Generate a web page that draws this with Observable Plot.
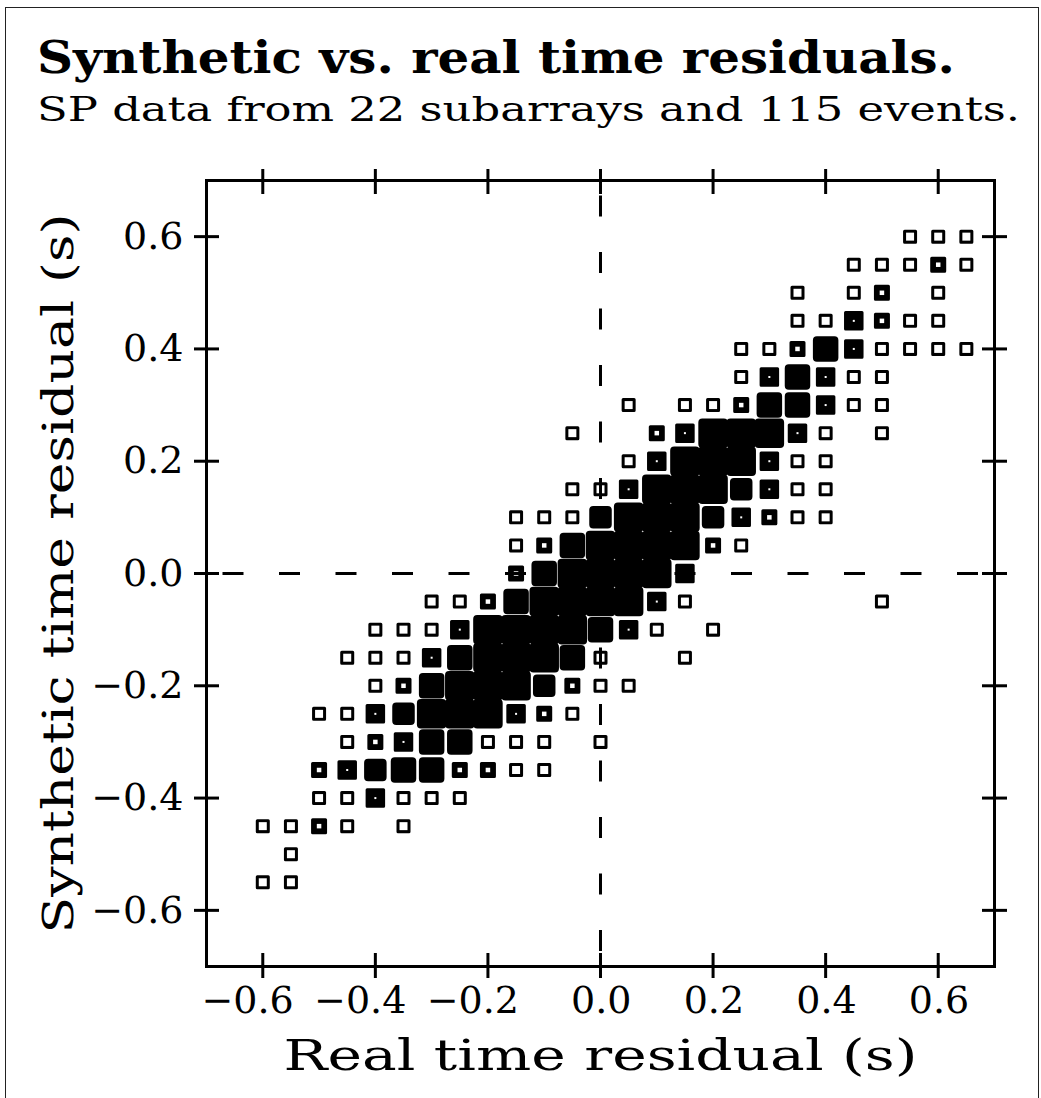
<!DOCTYPE html>
<html>
<head>
<meta charset="utf-8">
<script src="https://cdn.jsdelivr.net/npm/d3@7"></script>
<script src="https://cdn.jsdelivr.net/npm/@observablehq/plot@0.6"></script>
<style>
  html, body { margin: 0; padding: 0; background: #fff; }
  body { width: 1041px; height: 1098px; overflow: hidden; position: relative; font-family: "DejaVu Serif", serif; color: #000; }
  #frame { position: absolute; left: 5px; top: 7px; width: 1034px; height: 1120px; border: 1.5px solid #222; box-sizing: border-box; z-index: 2; pointer-events: none; }
  #title { position: absolute; left: 37px; top: 35px; font-size: 45px; line-height: 1; font-weight: bold; white-space: nowrap; transform-origin: 0 0; }
  #subtitle { position: absolute; left: 37px; top: 93px; font-size: 33px; line-height: 1; white-space: nowrap; transform-origin: 0 0; }
  #chart { position: absolute; left: 0; top: 140px; }
</style>
</head>
<body>
<div id="frame"></div>
<div id="title">Synthetic vs. real time residuals.</div>
<div id="subtitle">SP data from 22 subarrays and 115 events.</div>
<div id="chart"></div>
<script>
// Synthetic residual of each row (s)
const syntheticY = [0.6, 0.55, 0.5, 0.45, 0.4, 0.35, 0.3, 0.25, 0.2, 0.15, 0.1, 0.05, 0,
  -0.05, -0.1, -0.15, -0.2, -0.25, -0.3, -0.35, -0.4, -0.45, -0.5, -0.55];
// Real residuals present in each row (s)
const realX = [
  [0.55, 0.6, 0.65],
  [0.45, 0.5, 0.55, 0.6, 0.65],
  [0.35, 0.45, 0.5, 0.6],
  [0.35, 0.4, 0.45, 0.5, 0.55, 0.6],
  [0.25, 0.3, 0.35, 0.4, 0.45, 0.5, 0.55, 0.6, 0.65],
  [0.25, 0.3, 0.35, 0.4, 0.45, 0.5],
  [0.05, 0.15, 0.2, 0.25, 0.3, 0.35, 0.4, 0.45, 0.5],
  [-0.05, 0.1, 0.15, 0.2, 0.25, 0.3, 0.35, 0.4, 0.5],
  [0.05, 0.1, 0.15, 0.2, 0.25, 0.3, 0.35, 0.4],
  [-0.05, 0, 0.05, 0.1, 0.15, 0.2, 0.25, 0.3, 0.35, 0.4],
  [-0.15, -0.1, -0.05, 0, 0.05, 0.1, 0.15, 0.2, 0.25, 0.3, 0.35, 0.4],
  [-0.15, -0.1, -0.05, 0, 0.05, 0.1, 0.15, 0.2, 0.25],
  [-0.15, -0.1, -0.05, 0, 0.05, 0.1, 0.15],
  [-0.3, -0.25, -0.2, -0.15, -0.1, -0.05, 0, 0.05, 0.1, 0.15, 0.5],
  [-0.4, -0.35, -0.3, -0.25, -0.2, -0.15, -0.1, -0.05, 0, 0.05, 0.1, 0.2],
  [-0.45, -0.4, -0.35, -0.3, -0.25, -0.2, -0.15, -0.1, -0.05, 0, 0.15],
  [-0.4, -0.35, -0.3, -0.25, -0.2, -0.15, -0.1, -0.05, 0, 0.05],
  [-0.5, -0.45, -0.4, -0.35, -0.3, -0.25, -0.2, -0.15, -0.1, -0.05],
  [-0.45, -0.4, -0.35, -0.3, -0.25, -0.2, -0.15, -0.1, 0],
  [-0.5, -0.45, -0.4, -0.35, -0.3, -0.25, -0.2, -0.15, -0.1],
  [-0.5, -0.45, -0.4, -0.35, -0.3, -0.25],
  [-0.6, -0.55, -0.5, -0.45, -0.35],
  [-0.55],
  [-0.6, -0.55]
];
// Count class (1 = fewest ... 6 = most) for each cell, same layout as realX
const countClass = [
  [1, 1, 1],
  [1, 1, 1, 2, 1],
  [1, 1, 2, 1],
  [1, 1, 3, 2, 1, 1],
  [1, 1, 2, 5, 3, 1, 1, 1, 1],
  [1, 3, 5, 3, 1, 1],
  [1, 1, 1, 2, 5, 5, 3, 1, 1],
  [1, 2, 3, 6, 6, 6, 3, 1, 1],
  [1, 3, 6, 6, 6, 3, 1, 1],
  [1, 1, 3, 6, 6, 6, 4, 3, 1, 1],
  [1, 1, 1, 4, 6, 6, 6, 4, 3, 2, 1, 1],
  [1, 2, 5, 6, 6, 6, 6, 2, 1],
  [2, 5, 6, 6, 6, 6, 3],
  [1, 1, 2, 5, 6, 6, 6, 6, 3, 1, 1],
  [1, 1, 1, 3, 6, 6, 6, 6, 5, 3, 1, 1],
  [1, 1, 1, 3, 5, 6, 6, 6, 5, 1, 1],
  [1, 2, 5, 6, 6, 6, 4, 2, 1, 1],
  [1, 1, 3, 4, 6, 6, 6, 3, 2, 1],
  [1, 2, 3, 5, 5, 1, 1, 1, 1],
  [2, 3, 4, 5, 5, 2, 2, 1, 1],
  [1, 1, 3, 1, 1, 1],
  [1, 1, 2, 1, 1],
  [1],
  [1, 1]
];
const tickValues = [-0.6, -0.4, -0.2, 0, 0.2, 0.4, 0.6];
const xLabel = "Real time residual (s)";
const yLabel = "Synthetic time residual (s)";

// marker styling per count class: outer side (px), white hole side (px), stroke width
const markerStyle = {
  1: {outer: 14, hole: 8, sw: 3},
  2: {outer: 16, hole: 4.5, sw: 3},
  3: {outer: 19.5, hole: 2, sw: 3},
  4: {outer: 22.5, hole: 0, sw: 8},
  5: {outer: 25.5, hole: 0, sw: 8},
  6: {outer: 29.5, hole: 0, sw: 8}
};

const cells = [];
syntheticY.forEach((y, i) => realX[i].forEach((x, j) => cells.push({x, y, n: countClass[i][j]})));
const SQ = Math.sqrt(Math.PI);
const thin = cells.filter(d => markerStyle[d.n].sw === 3);
const thick = cells.filter(d => markerStyle[d.n].sw === 8);
const holes = cells.filter(d => markerStyle[d.n].hole > 0);

const fmt = d3.format(".1f");
const tickCommon = {label: null, tickFormat: () => "", strokeWidth: 3, tickSize: 25};

const chart = Plot.plot({
  width: 1041,
  height: 958,
  marginTop: 40,
  marginBottom: 132,
  marginLeft: 206,
  marginRight: 47,
  x: {domain: [-0.7, 0.7], label: null},
  y: {domain: [-0.7, 0.7], label: null},
  r: {type: "identity"},
  style: {fontFamily: "DejaVu Serif", background: "transparent", color: "black"},
  marks: [
    Plot.dot(thin, {x: "x", y: "y", symbol: "square", r: d => (markerStyle[d.n].outer - 3) / SQ,
      fill: "black", stroke: "black", strokeWidth: 3, strokeLinejoin: "round"}),
    Plot.dot(thick, {x: "x", y: "y", symbol: "square", r: d => (markerStyle[d.n].outer - 8) / SQ,
      fill: "black", stroke: "black", strokeWidth: 8, strokeLinejoin: "round"}),
    Plot.dot(holes, {x: "x", y: "y", symbol: "square", r: d => markerStyle[d.n].hole / SQ, fill: "white"}),
    Plot.ruleX([0], {stroke: "black", strokeWidth: 3, strokeDasharray: "21 35.5", strokeDashoffset: 41}),
    Plot.ruleY([0], {stroke: "black", strokeWidth: 3, strokeDasharray: "21 35.5", strokeDashoffset: 40}),
    Plot.frame({stroke: "black", strokeWidth: 3}),
    Plot.axisX(tickValues, {...tickCommon, anchor: "bottom", dy: -13}),
    Plot.axisX(tickValues, {...tickCommon, anchor: "top", dy: 13}),
    Plot.axisY(tickValues, {...tickCommon, anchor: "left", dx: 13}),
    Plot.axisY(tickValues, {...tickCommon, anchor: "right", dx: -13}),
    Plot.axisX(tickValues, {anchor: "bottom", label: null, tickSize: 0, tickPadding: 20, fontSize: 38,
      tickFormat: fmt, textAnchor: "end", dx: 31}),
    Plot.axisY(tickValues, {anchor: "left", label: null, tickSize: 0, tickPadding: 23, fontSize: 38,
      tickFormat: fmt}),
    Plot.text([xLabel], {text: d => d, frameAnchor: "bottom", lineAnchor: "bottom", textAnchor: "middle", dy: 103, fontSize: 42}),
    Plot.text([yLabel], {text: d => d, frameAnchor: "left", rotate: -90, lineAnchor: "middle", textAnchor: "middle", dx: -147, fontSize: 42})
  ]
});
document.getElementById("chart").appendChild(chart);

// widen the axis titles to the reference's wide typeface
d3.select(chart).selectAll("text").each(function() {
  const t = this.textContent;
  if (t === xLabel) { this.setAttribute("textLength", 634); this.setAttribute("lengthAdjust", "spacingAndGlyphs"); }
  if (t === yLabel) { this.setAttribute("textLength", 720); this.setAttribute("lengthAdjust", "spacingAndGlyphs"); }
});
// widen the title lines the same way
for (const [id, target] of [["title", 918], ["subtitle", 983]]) {
  const el = document.getElementById(id);
  const w = el.getBoundingClientRect().width;
  el.style.transform = `scaleX(${target / w})`;
}
</script>
</body>
</html>
